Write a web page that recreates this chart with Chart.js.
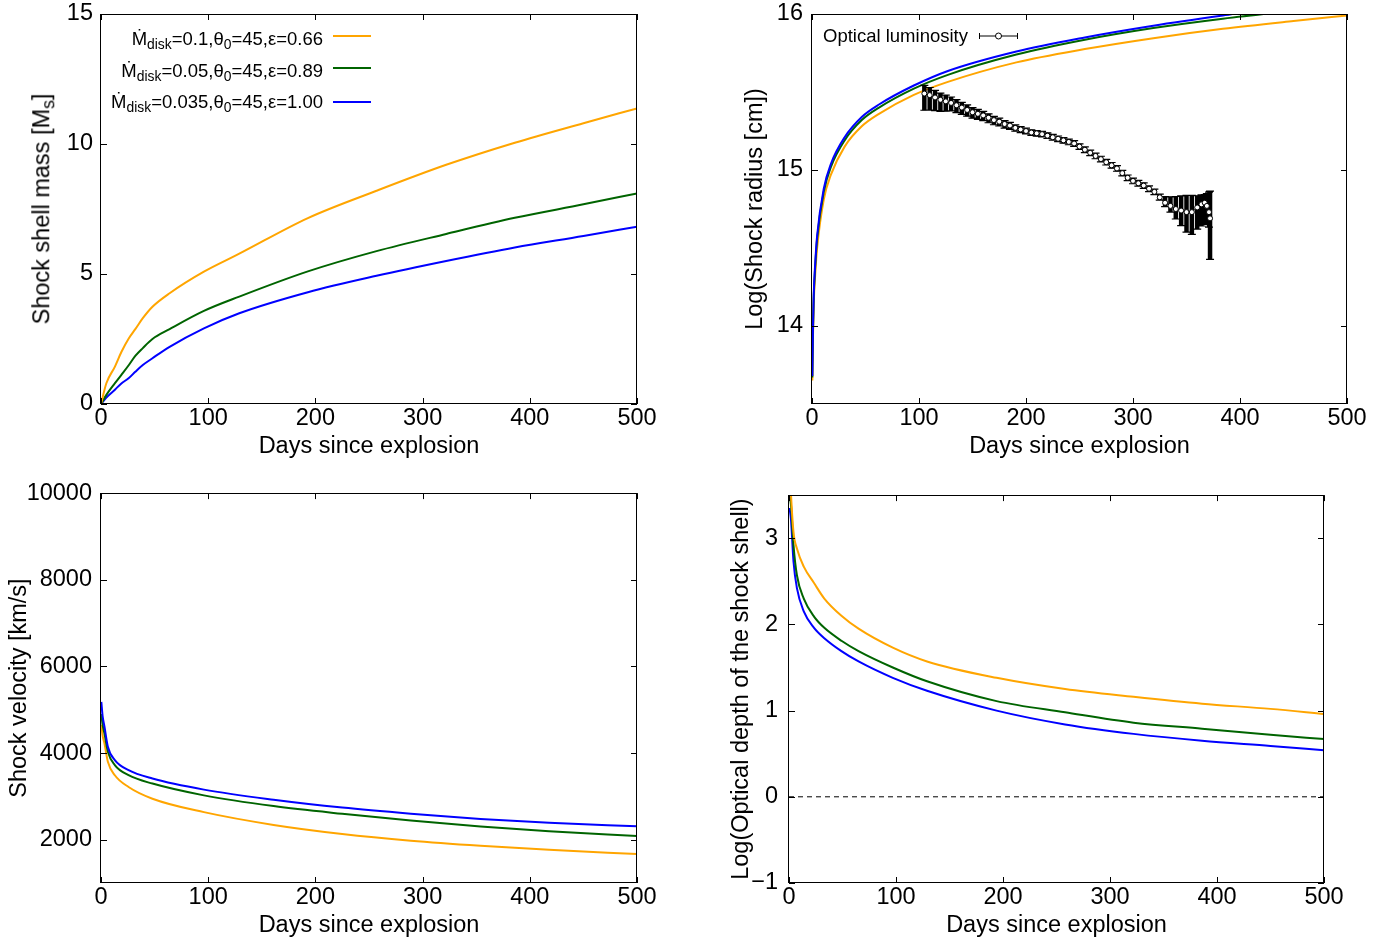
<!DOCTYPE html>
<html>
<head>
<meta charset="utf-8">
<title>Shock shell evolution</title>
<script src="https://cdn.jsdelivr.net/npm/chart.js@4/dist/chart.umd.min.js"></script>
<style>
  body { margin: 0; background: #fff; }
  #page { position: relative; width: 1394px; height: 941px; overflow: hidden; font-family: 'Liberation Sans', Arial, sans-serif; color: #000; }
  .panel { position: absolute; width: 697px; }
  .key { position: absolute; font-size: 18.5px; line-height: 18px; white-space: nowrap; }
  sub { font-size: 0.75em; position: relative; top: 0.3em; vertical-align: baseline; line-height: 0; }
  .swatch { position: absolute; left: 333px; width: 38px; height: 2px; }
  .ttl { position: absolute; font-size: 23.5px; line-height: 23.5px; white-space: nowrap; transform: translate(-50%, -50%) rotate(-90deg); }
</style>
</head>
<body>
<div id="page">
  <div class="panel" style="left:0;top:-10px;height:480px"><canvas id="cMass"></canvas></div>
  <div class="panel" style="left:697px;top:-10px;height:480px"><canvas id="cRadius"></canvas></div>
  <div class="panel" style="left:0;top:470px;height:471px"><canvas id="cVel"></canvas></div>
  <div class="panel" style="left:697px;top:470px;height:471px"><canvas id="cTau"></canvas></div>

  <div class="ttl" style="left:42px;top:209px">Shock shell mass [M<sub>s</sub>]</div>

  <div class="key" style="right:1071px;top:30px">Ṁ<sub>disk</sub>=0.1,θ<sub>0</sub>=45,ε=0.66</div>
  <div class="key" style="right:1071px;top:62px">Ṁ<sub>disk</sub>=0.05,θ<sub>0</sub>=45,ε=0.89</div>
  <div class="key" style="right:1071px;top:93px">Ṁ<sub>disk</sub>=0.035,θ<sub>0</sub>=45,ε=1.00</div>
  <div class="swatch" style="top:35px;background:#ffa500"></div>
  <div class="swatch" style="top:67px;background:#006400"></div>
  <div class="swatch" style="top:101px;background:#0000ff"></div>

  <div class="key" style="left:823px;top:27px">Optical luminosity</div>
  <svg style="position:absolute;left:979px;top:30px" width="40" height="12">
    <path d="M0.5 6H38.5M0.5 3V9M38.5 3V9" stroke="#000" stroke-width="1" fill="none"/>
    <circle cx="19.5" cy="6" r="3" fill="#fff" stroke="#000" stroke-width="1"/>
  </svg>
</div>

<script>
var xTicks = [0, 100, 200, 300, 400, 500]

// shell mass [Msun] vs days
var massDays = [0, 5, 13, 19, 26, 32, 39, 48, 64, 96, 129, 193, 257, 322, 386, 450, 500]
var massOrange = [0, 0.8, 1.44, 2.0, 2.53, 2.88, 3.3, 3.74, 4.26, 5.09, 5.78, 7.15, 8.2, 9.2, 10.05, 10.8, 11.37]
var massGreen = [0, 0.35, 0.8, 1.12, 1.5, 1.85, 2.15, 2.5, 2.88, 3.58, 4.13, 5.1, 5.88, 6.54, 7.16, 7.68, 8.1]
var massBlue = [0, 0.25, 0.55, 0.79, 1.0, 1.24, 1.5, 1.76, 2.2, 2.91, 3.49, 4.3, 4.93, 5.5, 6.02, 6.46, 6.82]
var massTicks = [0, 5, 10, 15]

// log shock radius
var radDays = [0.3, 0.8, 1.6, 3, 4.8, 11, 17.7, 30.5, 46.5, 62.6, 94.7, 127, 191, 255, 319, 384, 450, 500]
var radBlue = [13.68, 13.95, 14.2, 14.4, 14.58, 14.88, 15.04, 15.21, 15.34, 15.42, 15.54, 15.635, 15.76, 15.85, 15.925, 15.99, 16.05, 16.08]
var radGreen = [13.67, 13.93, 14.18, 14.38, 14.56, 14.86, 15.02, 15.19, 15.32, 15.4, 15.52, 15.61, 15.74, 15.835, 15.91, 15.97, 16.02, 16.055]
var radOrange = [13.65, 13.9, 14.14, 14.33, 14.5, 14.81, 14.97, 15.15, 15.28, 15.36, 15.48, 15.565, 15.69, 15.775, 15.845, 15.905, 15.955, 15.99]
var radTicks = [14, 15, 16]

// optical luminosity points with asymmetric errors
var lumDays = [105, 110, 115, 120, 125, 130, 135, 140, 145, 150, 155, 160, 165, 170, 175, 180, 185, 190, 195, 200,
  205, 210, 215, 220, 225, 230, 235, 240, 245, 250, 255, 260, 265, 270, 275, 280, 285, 290, 295, 300,
  305, 310, 315, 320, 325, 330, 335, 340, 345, 350, 355, 360, 364, 367, 369, 371, 372]
var lumLog = [15.49, 15.48, 15.465, 15.45, 15.44, 15.43, 15.415, 15.4, 15.385, 15.37, 15.36, 15.35, 15.335, 15.32, 15.31, 15.295, 15.285, 15.27, 15.26, 15.25,
  15.24, 15.235, 15.23, 15.22, 15.21, 15.2, 15.19, 15.18, 15.17, 15.15, 15.13, 15.11, 15.09, 15.07, 15.05, 15.03, 15.01, 14.98, 14.95, 14.93,
  14.915, 14.9, 14.88, 14.86, 14.825, 14.79, 14.77, 14.75, 14.74, 14.73, 14.73, 14.76, 14.78, 14.79, 14.77, 14.73, 14.69]
var lumUp = [0.053, 0.049, 0.046, 0.043, 0.04, 0.038, 0.036, 0.034, 0.032, 0.03, 0.028, 0.026, 0.025, 0.024, 0.022, 0.021, 0.02, 0.019, 0.018, 0.018,
  0.018, 0.018, 0.018, 0.018, 0.018, 0.018, 0.018, 0.018, 0.018, 0.018, 0.018, 0.018, 0.018, 0.018, 0.018, 0.018, 0.018, 0.018, 0.018, 0.018,
  0.018, 0.018, 0.018, 0.018, 0.02, 0.04, 0.058, 0.08, 0.094, 0.107, 0.107, 0.075, 0.06, 0.053, 0.079, 0.128, 0.175]
var lumDn = [0.107, 0.096, 0.085, 0.075, 0.063, 0.051, 0.047, 0.043, 0.04, 0.038, 0.036, 0.034, 0.032, 0.03, 0.028, 0.026, 0.024, 0.021, 0.02, 0.018,
  0.018, 0.018, 0.018, 0.018, 0.018, 0.018, 0.018, 0.018, 0.018, 0.018, 0.018, 0.018, 0.018, 0.018, 0.018, 0.018, 0.018, 0.018, 0.018, 0.018,
  0.018, 0.018, 0.018, 0.018, 0.018, 0.025, 0.04, 0.064, 0.096, 0.128, 0.143, 0.139, 0.139, 0.139, 0.118, 0.096, 0.263]

// shock velocity [km/s]
var velDays = [0.3, 1.5, 3.2, 6.4, 12.9, 25.7, 48, 96, 161, 225, 289, 354, 418, 500]
var velBlue = [5180, 4850, 4612, 4147, 3837, 3605, 3411, 3155, 2922, 2740, 2600, 2480, 2390, 2310]
var velGreen = [4900, 4650, 4457, 4031, 3721, 3488, 3295, 3023, 2775, 2597, 2442, 2302, 2194, 2085]
var velOrange = [4650, 4400, 4225, 3798, 3488, 3217, 2946, 2636, 2341, 2132, 1977, 1860, 1767, 1667]
var velTicks = [2000, 4000, 6000, 8000, 10000]

// log optical depth of the shell
var tauDays = [0.5, 1.9, 4.2, 7.4, 13.8, 23.4, 33, 49, 65, 97, 129, 194, 258, 322, 386, 450, 500]
var tauOrange = [3.9, 3.5, 3.07, 2.88, 2.67, 2.48, 2.3, 2.1, 1.95, 1.73, 1.57, 1.38, 1.25, 1.16, 1.08, 1.02, 0.96]
var tauGreen = [3.5, 3.38, 2.92, 2.57, 2.3, 2.09, 1.96, 1.81, 1.69, 1.5, 1.34, 1.11, 0.98, 0.86, 0.79, 0.72, 0.67]
var tauBlue = [3.35, 3.21, 2.73, 2.42, 2.15, 1.96, 1.84, 1.69, 1.57, 1.38, 1.23, 1.0, 0.84, 0.73, 0.65, 0.59, 0.54]
var tauZeroDays = [0, 500]
var tauZero = [0, 0]
var tauTicks = [-1, 0, 1, 2, 3]

var orange = '#ffa500'
var green = '#006400'
var blue = '#0000ff'

Chart.defaults.font.family = "'Liberation Sans', Arial, sans-serif"
Chart.defaults.font.size = 23.5
Chart.defaults.color = '#000'

function pts (xs, ys) {
  return xs.map(function (x, i) { return { x: x, y: ys[i] } })
}

function curve (xs, ys, color) {
  return {
    data: pts(xs, ys),
    showLine: true,
    borderColor: color,
    borderWidth: 2,
    pointRadius: 0,
    cubicInterpolationMode: 'monotone',
    fill: false
  }
}

function fmt (v) {
  return v < 0 ? '\u2212' + (-v) : String(v)
}

// gnuplot-like border with inward ticks on all four sides
var gnuFrame = {
  id: 'gnuFrame',
  afterDatasetsDraw: function (chart) {
    var a = chart.chartArea
    var ctx = chart.ctx
    var sx = chart.scales.x
    var sy = chart.scales.y
    ctx.save()
    ctx.strokeStyle = '#000'
    ctx.lineWidth = 1
    ctx.beginPath()
    sx.ticks.forEach(function (t) {
      var px = Math.round(sx.getPixelForValue(t.value)) + 0.5
      ctx.moveTo(px, a.bottom); ctx.lineTo(px, a.bottom - 6)
      ctx.moveTo(px, a.top); ctx.lineTo(px, a.top + 6)
    })
    sy.ticks.forEach(function (t) {
      var py = Math.round(sy.getPixelForValue(t.value)) + 0.5
      ctx.moveTo(a.left, py); ctx.lineTo(a.left + 6, py)
      ctx.moveTo(a.right, py); ctx.lineTo(a.right - 6, py)
    })
    ctx.stroke()
    ctx.strokeRect(Math.round(a.left) - 0.5, Math.round(a.top) + 0.5, Math.round(a.right - a.left), Math.round(a.bottom - a.top) - 1)
    ctx.restore()
  }
}

// vertical error bars drawn just under the dataset that carries them
var errorBars = {
  id: 'errorBars',
  beforeDatasetDraw: function (chart, args) {
    var ds = chart.data.datasets[args.index]
    if (!ds.errUp) return
    var a = chart.chartArea
    var ctx = chart.ctx
    var sx = chart.scales.x
    var sy = chart.scales.y
    ctx.save()
    ctx.beginPath()
    ctx.rect(a.left, a.top, a.right - a.left, a.bottom - a.top)
    ctx.clip()
    ctx.strokeStyle = '#000'
    ctx.beginPath()
    ds.data.forEach(function (p, i) {
      var px = sx.getPixelForValue(p.x)
      var top = sy.getPixelForValue(p.y + ds.errUp[i])
      var bot = sy.getPixelForValue(p.y - ds.errDn[i])
      ctx.moveTo(px, top); ctx.lineTo(px, bot)
    })
    ctx.lineWidth = 4.5
    ctx.stroke()
    ctx.beginPath()
    ds.data.forEach(function (p, i) {
      var px = sx.getPixelForValue(p.x)
      var top = sy.getPixelForValue(p.y + ds.errUp[i])
      var bot = sy.getPixelForValue(p.y - ds.errDn[i])
      ctx.moveTo(px - 4, top); ctx.lineTo(px + 4, top)
      ctx.moveTo(px - 4, bot); ctx.lineTo(px + 4, bot)
    })
    ctx.lineWidth = 1.2
    ctx.stroke()
    ctx.restore()
  }
}

function buildChart (id, datasets, cfg) {
  return new Chart(document.getElementById(id), {
    type: 'scatter',
    data: { datasets: datasets },
    options: {
      responsive: true,
      maintainAspectRatio: false,
      animation: false,
      layout: { padding: cfg.pad },
      plugins: { legend: { display: false }, tooltip: { enabled: false } },
      scales: {
        x: {
          type: 'linear',
          min: 0,
          max: 500,
          grid: { display: false, drawTicks: false },
          border: { display: false },
          ticks: { padding: 0, autoSkip: false, maxRotation: 0, callback: fmt },
          afterBuildTicks: function (s) { s.ticks = xTicks.map(function (v) { return { value: v } }) },
          title: { display: true, text: 'Days since explosion', padding: { top: 0, bottom: cfg.xTitlePad } },
          afterFit: function (s) { s.height = cfg.xH }
        },
        y: {
          type: 'linear',
          min: cfg.yMin,
          max: cfg.yMax,
          grid: { display: false, drawTicks: false },
          border: { display: false },
          ticks: { padding: cfg.yTickPad, autoSkip: false, callback: fmt },
          afterBuildTicks: function (s) { s.ticks = cfg.yTicks.map(function (v) { return { value: v } }) },
          title: { display: !!cfg.yTitle, text: cfg.yTitle || '', padding: { top: cfg.yTitlePad, bottom: 0 } },
          afterFit: function (s) { s.width = cfg.yW }
        }
      }
    },
    plugins: [errorBars, gnuFrame]
  })
}

var lumSet = {
  data: pts(lumDays, lumLog),
  errUp: lumUp,
  errDn: lumDn,
  showLine: true,
  borderColor: '#000',
  borderWidth: 1,
  pointRadius: 2.5,
  pointBackgroundColor: '#fff',
  pointBorderColor: '#000',
  pointBorderWidth: 1,
  fill: false
}

var zeroSet = {
  data: pts(tauZeroDays, tauZero),
  showLine: true,
  borderColor: '#000',
  borderWidth: 1,
  borderDash: [5, 4],
  pointRadius: 0,
  fill: false
}

buildChart('cMass', [
  curve(massDays, massOrange, orange),
  curve(massDays, massGreen, green),
  curve(massDays, massBlue, blue)
], { pad: { top: 24, right: 60, left: 0, bottom: 0 }, yW: 101, xH: 66, xTitlePad: 9.4,
  yMin: 0, yMax: 15, yTicks: massTicks, yTickPad: 8, yTitle: null, yTitlePad: 0 })

buildChart('cRadius', [
  lumSet,
  curve(radDays, radBlue, blue),
  curve(radDays, radGreen, green),
  curve(radDays, radOrange, orange)
], { pad: { top: 24, right: 47, left: 0, bottom: 0 }, yW: 115, xH: 66, xTitlePad: 9.4,
  yMin: 13.5, yMax: 16, yTicks: radTicks, yTickPad: 9, yTitle: 'Log(Shock radius [cm])', yTitlePad: 44 })

buildChart('cVel', [
  curve(velDays, velBlue, blue),
  curve(velDays, velGreen, green),
  curve(velDays, velOrange, orange)
], { pad: { top: 23, right: 60, left: 0, bottom: 0 }, yW: 101, xH: 58, xTitlePad: 1.5,
  yMin: 1000, yMax: 10000, yTicks: velTicks, yTickPad: 9, yTitle: 'Shock velocity [km/s]', yTitlePad: 5 })

buildChart('cTau', [
  curve(tauDays, tauOrange, orange),
  curve(tauDays, tauGreen, green),
  curve(tauDays, tauBlue, blue),
  zeroSet
], { pad: { top: 23, right: 70, left: 0, bottom: 0 }, yW: 92, xH: 58, xTitlePad: 1.5,
  yMin: -1, yMax: 3.5, yTicks: tauTicks, yTickPad: 11, yTitle: 'Log(Optical depth of the shock shell)', yTitlePad: 30.6 })
</script>
</body>
</html>
